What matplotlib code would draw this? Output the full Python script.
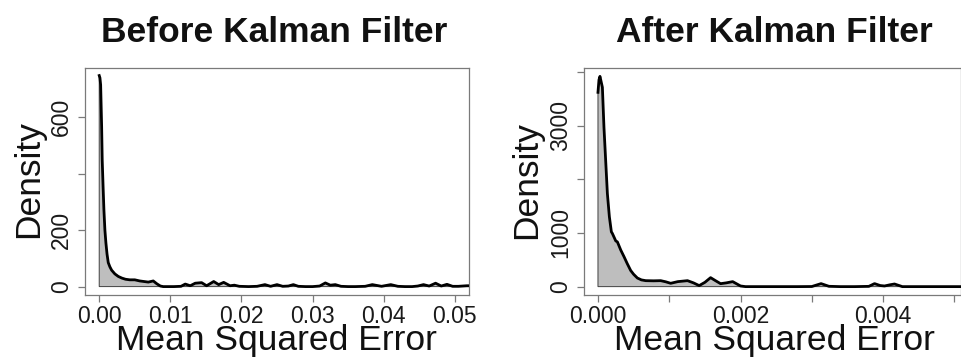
import matplotlib
matplotlib.use("Agg")
import matplotlib.pyplot as plt
from matplotlib.ticker import FixedLocator, FixedFormatter

plt.rcParams['font.family'] = ['Liberation Sans', 'DejaVu Sans']

# ---------------- data ----------------
titles = ["Before Kalman Filter", "After Kalman Filter"]
xlabel = "Mean Squared Error"
ylabel = "Density"

before_x = [0, 0.0001, 0.0002, 0.00034, 0.00042, 0.00055, 0.00066, 0.0008, 0.00094, 0.0011,
            0.00127, 0.0015, 0.00175, 0.0022, 0.00268, 0.0032, 0.0037, 0.0043, 0.005, 0.0057,
            0.0063, 0.0069, 0.0076, 0.0081, 0.0086, 0.009, 0.0105, 0.0115, 0.0121, 0.0128,
            0.0135, 0.0144, 0.0151, 0.0161, 0.0168, 0.0175, 0.0184, 0.019, 0.0197, 0.021,
            0.0222, 0.0233, 0.0241, 0.025, 0.0258, 0.0266, 0.0273, 0.028, 0.029, 0.030,
            0.031, 0.0318, 0.0325, 0.0332, 0.034, 0.035, 0.036, 0.0374, 0.0384, 0.0397,
            0.041, 0.042, 0.043, 0.044, 0.0448, 0.0456, 0.0464, 0.0473, 0.0481, 0.0489,
            0.0497, 0.0505, 0.0517, 0.052]
before_y = [748, 740, 715, 567, 449, 350, 272, 200, 155, 115,
            85, 70, 58, 45, 36, 30, 26, 24, 24, 20,
            18, 16, 20, 10, 2, 0, 0, 1, 9, 3,
            12, 14, 3, 18, 7, 15, 3, 5, 1, 0,
            1, 7, 1, 7, 1, 2, 7, 1, 0, 0,
            2, 13, 5, 7, 1, 0, 0, 1, 7, 1,
            7, 1, 0, 0, 2, 7, 2, 12, 2, 8,
            1, 1, 3, 3]

after_x = [0, 0.000014, 0.000028, 0.000062, 0.000084, 0.000108, 0.000132, 0.00016, 0.000188,
           0.000202, 0.00025, 0.000272, 0.00032, 0.000366, 0.00041, 0.000459, 0.0005, 0.000553,
           0.00061, 0.00067, 0.00078, 0.00088, 0.00095, 0.00102, 0.00112, 0.001256, 0.00134,
           0.00142, 0.0015, 0.00158, 0.00165, 0.00172, 0.0018, 0.00189, 0.002, 0.00207, 0.0022,
           0.0025, 0.0028, 0.003, 0.00313, 0.00324, 0.0034, 0.0036, 0.0038, 0.00388, 0.00396,
           0.00402, 0.0041, 0.00416, 0.00427, 0.0045, 0.0048, 0.0051]
after_y = [3618, 3850, 3915, 3711, 2968, 2350, 1733, 1300, 1020,
           990, 850, 834, 680, 556, 430, 300, 230, 160,
           125, 111, 108, 111, 90, 62, 93, 111, 70,
           19, 80, 167, 110, 55, 70, 93, 12, 0, 0,
           0, 0, 2, 56, 6, 0, 0, 5, 56, 20,
           12, 35, 49, 0, 0, 0, 0]

before_xticks = [0.00, 0.01, 0.02, 0.03, 0.04, 0.05]
before_xticklabels = ["0.00", "0.01", "0.02", "0.03", "0.04", "0.05"]
before_yticks = [0, 200, 400, 600]
before_yticklabels = ["0", "200", "", "600"]

after_xticks = [0.000, 0.001, 0.002, 0.003, 0.004, 0.005]
after_xticklabels = ["0.000", "", "0.002", "", "0.004", ""]
after_yticks = [0, 1000, 2000, 3000, 4000]
after_yticklabels = ["0", "1000", "", "3000", ""]

# ---------------- layout ----------------
W, H = 962, 358
fig = plt.figure(figsize=(W / 100, H / 100), dpi=100)

def fx(x):
    return x / W

def fy(y):
    return 1 - y / H

ax1 = fig.add_axes([fx(85), fy(295), 384 / W, 227 / H])
ax2 = fig.add_axes([fx(584), fy(295), 377.5 / W, 227 / H])

panels = [
    (ax1, before_x, before_y, before_xticks, before_xticklabels, before_yticks, before_yticklabels,
     (-0.002, 0.052), (-29.8, 774.8), 274, 276, 38.5, 179),
    (ax2, after_x, after_y, after_xticks, after_xticklabels, after_yticks, after_yticklabels,
     (-0.000196, 0.0051), (-156, 4071), 774, 774, 536.5, 180),
]

spine_col = "#7a7a7a"
for i, (ax, xs, ys, xt, xtl, yt, ytl, xl, yl, tx, lx, ylx, yly) in enumerate(panels):
    ax.fill(list(xs) + [xs[-1], xs[0]], list(ys) + [0, 0], facecolor="#bebebe",
            edgecolor="#404040", linewidth=0.7, zorder=2)
    ax.plot(xs, ys, color="black", linewidth=2.0, solid_joinstyle="round", zorder=3)
    ax.set_xlim(*xl)
    ax.set_ylim(*yl)
    ax.xaxis.set_major_locator(FixedLocator(xt))
    ax.xaxis.set_major_formatter(FixedFormatter(xtl))
    ax.yaxis.set_major_locator(FixedLocator(yt))
    ax.yaxis.set_major_formatter(FixedFormatter(ytl))
    ax.tick_params(axis="both", direction="out", length=5, width=0.9, color=spine_col,
                   labelsize=16.5, labelcolor="#1a1a1a")
    ax.tick_params(axis="x", pad=2.5)
    ax.tick_params(axis="y", pad=3.5)
    for lab in ax.get_yticklabels():
        lab.set_rotation(90)
        lab.set_va("center")
        lab.set_rotation_mode("default")
    for sp in ax.spines.values():
        sp.set_color(spine_col)
        sp.set_linewidth(0.9)

    fig.text(fx(tx), fy(42), titles[i], ha="center", va="baseline",
             fontsize=25.5, fontweight="bold", color="#111111")
    fig.text(fx(lx), fy(350), xlabel, ha="center", va="baseline",
             fontsize=25.5, color="#111111")
    fig.text(fx(ylx), fy(yly), ylabel, ha="center", va="baseline", rotation=90,
             rotation_mode="anchor", fontsize=25.5, color="#111111")

fig.savefig("out.png", dpi=100)
